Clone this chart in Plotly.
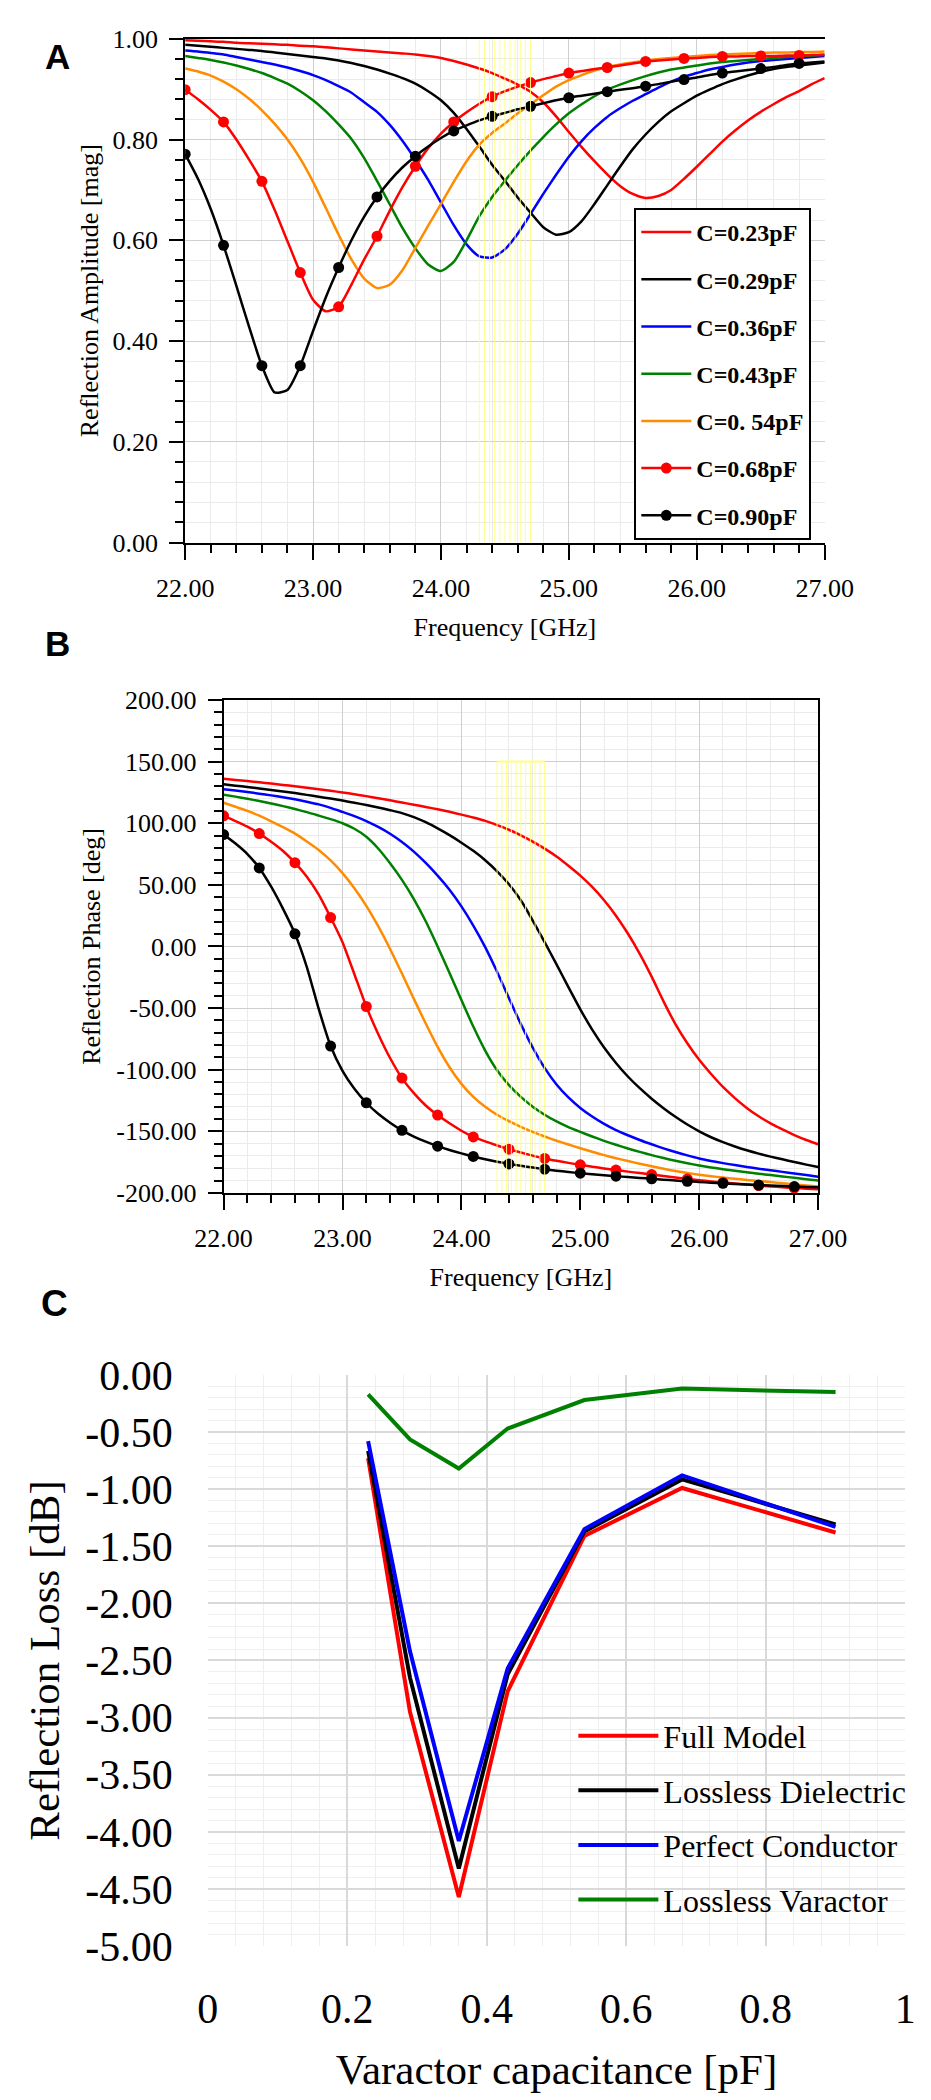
import plotly.graph_objects as go

SERIF = "Liberation Serif"
SANS = "Liberation Sans"
W, H = 931, 2100

# ---------------- data ----------------
freq_ghz = [22.0, 22.1, 22.2, 22.3, 22.4, 22.5, 22.6, 22.7, 22.8, 22.9,
            23.0, 23.1, 23.2, 23.3, 23.4, 23.5, 23.6, 23.7, 23.8, 23.9,
            24.0, 24.1, 24.2, 24.3, 24.4, 24.5, 24.6, 24.7, 24.8, 24.9,
            25.0, 25.1, 25.2, 25.3, 25.4, 25.5, 25.6, 25.7, 25.8, 25.9,
            26.0, 26.1, 26.2, 26.3, 26.4, 26.5, 26.6, 26.7, 26.8, 26.9,
            27.0]

series_labels = ["C=0.23pF", "C=0.29pF", "C=0.36pF", "C=0.43pF",
                 "C=0. 54pF", "C=0.68pF", "C=0.90pF"]
series_colors = ["#ff0000", "#000000", "#0000ff", "#008000",
                 "#ff8c00", "#ff0000", "#000000"]
series_has_markers = [False, False, False, False, False, True, True]
marker_every = 3  # markers on every 3rd sample (every 0.3 GHz)

# Reflection amplitude [mag]
amp_023 = [0.997, 0.996, 0.995, 0.994, 0.992, 0.991, 0.990, 0.989, 0.988, 0.986,
           0.985, 0.983, 0.981, 0.979, 0.977, 0.975, 0.973, 0.971, 0.969, 0.966,
           0.962, 0.956, 0.949, 0.941, 0.932, 0.921, 0.909, 0.895, 0.874, 0.846,
           0.815, 0.785, 0.757, 0.731, 0.708, 0.692, 0.684, 0.688, 0.700, 0.722,
           0.746, 0.771, 0.796, 0.818, 0.838, 0.855, 0.870, 0.884, 0.896, 0.910,
           0.922]
amp_029 = [0.988, 0.986, 0.984, 0.982, 0.980, 0.978, 0.976, 0.973, 0.970, 0.967,
           0.964, 0.961, 0.957, 0.952, 0.946, 0.939, 0.931, 0.922, 0.911, 0.896,
           0.878, 0.853, 0.821, 0.786, 0.750, 0.718, 0.685, 0.655, 0.626, 0.611,
           0.616, 0.638, 0.672, 0.709, 0.746, 0.781, 0.810, 0.835, 0.856, 0.872,
           0.887, 0.899, 0.910, 0.919, 0.927, 0.934, 0.940, 0.944, 0.947, 0.950,
           0.953]
amp_036 = [0.977, 0.975, 0.972, 0.969, 0.964, 0.959, 0.954, 0.949, 0.943, 0.936,
           0.928, 0.918, 0.906, 0.893, 0.874, 0.855, 0.829, 0.797, 0.760, 0.720,
           0.675, 0.630, 0.592, 0.568, 0.566, 0.582, 0.613, 0.652, 0.692, 0.730,
           0.766, 0.797, 0.823, 0.845, 0.862, 0.877, 0.890, 0.903, 0.915, 0.925,
           0.932, 0.939, 0.944, 0.949, 0.953, 0.956, 0.958, 0.960, 0.962, 0.964,
           0.966]
amp_043 = [0.966, 0.962, 0.958, 0.953, 0.947, 0.940, 0.932, 0.922, 0.911, 0.896,
           0.878, 0.856, 0.830, 0.801, 0.763, 0.718, 0.671, 0.624, 0.584, 0.552,
           0.539, 0.557, 0.600, 0.648, 0.686, 0.718, 0.749, 0.778, 0.805, 0.830,
           0.852, 0.870, 0.886, 0.899, 0.909, 0.918, 0.926, 0.933, 0.939, 0.943,
           0.947, 0.951, 0.954, 0.956, 0.958, 0.960, 0.962, 0.964, 0.966, 0.967,
           0.969]
amp_054 = [0.941, 0.935, 0.927, 0.915, 0.900, 0.881, 0.858, 0.831, 0.800, 0.762,
           0.716, 0.664, 0.611, 0.562, 0.524, 0.505, 0.512, 0.541, 0.585, 0.629,
           0.672, 0.716, 0.757, 0.790, 0.813, 0.832, 0.852, 0.870, 0.888, 0.905,
           0.918, 0.928, 0.937, 0.944, 0.949, 0.953, 0.957, 0.960, 0.962, 0.964,
           0.966, 0.968, 0.969, 0.970, 0.971, 0.972, 0.973, 0.973, 0.974, 0.974,
           0.975]
amp_068 = [0.899, 0.880, 0.859, 0.835, 0.800, 0.760, 0.717, 0.660, 0.598, 0.536,
           0.482, 0.459, 0.468, 0.512, 0.562, 0.608, 0.659, 0.706, 0.747, 0.783,
           0.812, 0.835, 0.854, 0.871, 0.885, 0.896, 0.905, 0.913, 0.920, 0.926,
           0.932, 0.936, 0.940, 0.943, 0.947, 0.951, 0.955, 0.957, 0.959, 0.961,
           0.962, 0.964, 0.965, 0.965, 0.966, 0.966, 0.966, 0.967, 0.967, 0.968,
           0.968]
amp_090 = [0.771, 0.722, 0.662, 0.590, 0.510, 0.428, 0.351, 0.298, 0.303, 0.351,
           0.420, 0.487, 0.546, 0.600, 0.647, 0.686, 0.718, 0.745, 0.767, 0.786,
           0.803, 0.817, 0.828, 0.838, 0.846, 0.853, 0.860, 0.866, 0.872, 0.878,
           0.883, 0.887, 0.891, 0.895, 0.899, 0.902, 0.906, 0.910, 0.915, 0.919,
           0.923, 0.928, 0.932, 0.935, 0.938, 0.941, 0.944, 0.948, 0.951, 0.953,
           0.955]

# Reflection phase [deg]
ph_023 = [136.0, 135.1, 134.2, 133.2, 132.2, 131.1, 130.0, 128.8, 127.6, 126.3,
          125.0, 123.5, 122.0, 120.3, 118.6, 116.8, 115.0, 113.2, 111.3, 109.3,
          107.0, 104.6, 101.9, 98.5, 94.7, 90.2, 85.1, 79.4, 73.0, 65.5,
          57.5, 48.3, 37.5, 25.0, 10.5, -6.0, -24.5, -44.5, -63.0, -78.5,
          -92.0, -103.5, -114.0, -123.0, -131.0, -137.8, -143.5, -148.5, -153.0, -157.0,
          -160.5]
ph_029 = [131.6, 130.5, 129.4, 128.2, 127.0, 125.8, 124.5, 123.0, 121.5, 120.0,
          118.4, 116.6, 114.8, 112.8, 110.6, 108.2, 105.0, 100.8, 95.8, 90.3,
          84.2, 77.6, 70.0, 61.0, 50.5, 37.5, 21.0, 3.5, -14.5, -33.0,
          -51.0, -67.5, -82.0, -94.5, -105.5, -115.0, -123.5, -131.2, -138.2, -144.5,
          -150.0, -154.8, -158.8, -162.3, -165.4, -168.1, -170.5, -172.7, -174.9, -177.0,
          -179.0]
ph_036 = [127.6, 126.5, 125.3, 124.0, 122.6, 121.1, 119.5, 117.5, 115.3, 112.5,
          109.2, 105.8, 101.8, 97.0, 91.5, 84.8, 77.0, 67.8, 57.5, 46.0,
          32.5, 17.0, -0.5, -20.5, -42.0, -63.0, -82.0, -98.5, -112.0, -122.5,
          -131.0, -138.0, -144.0, -149.0, -153.2, -157.0, -160.5, -163.8, -166.8, -169.5,
          -172.0, -174.0, -175.8, -177.4, -178.9, -180.3, -181.6, -182.9, -184.2, -185.5,
          -186.8]
ph_043 = [123.2, 121.6, 119.9, 118.0, 116.0, 113.9, 111.5, 109.0, 106.2, 103.3,
          100.0, 95.5, 89.0, 79.5, 67.5, 54.0, 38.5, 20.5, 0.0, -21.5,
          -43.5, -65.0, -84.5, -100.5, -112.5, -122.0, -130.0, -136.5, -142.0, -146.6,
          -150.5, -154.2, -157.7, -160.9, -163.9, -166.7, -169.3, -171.7, -173.9, -175.9,
          -177.7, -179.3, -180.7, -182.0, -183.2, -184.4, -185.5, -186.6, -187.7, -188.8,
          -189.9]
ph_054 = [116.6, 113.4, 110.0, 106.1, 101.6, 96.8, 91.6, 85.2, 78.3, 69.8,
          59.5, 47.3, 33.0, 16.5, -2.0, -22.0, -42.5, -62.5, -81.5, -98.0,
          -111.5, -122.0, -130.0, -136.5, -141.8, -146.4, -150.5, -154.2, -157.6, -160.7,
          -163.7, -166.6, -169.3, -171.8, -174.1, -176.3, -178.4, -180.4, -182.2, -183.8,
          -185.2, -186.4, -187.5, -188.5, -189.4, -190.3, -191.2, -192.1, -193.0, -193.9,
          -194.7]
ph_068 = [106.0, 101.8, 97.2, 91.6, 85.0, 77.5, 68.0, 56.5, 42.0, 23.5,
          3.5, -22.5, -48.7, -71.0, -90.5, -106.8, -119.0, -129.0, -136.8, -143.5,
          -149.5, -154.5, -158.2, -161.5, -164.5, -167.2, -169.7, -172.0, -173.9, -175.6,
          -177.2, -178.7, -180.1, -181.4, -182.7, -183.9, -185.1, -186.3, -187.5, -188.6,
          -189.6, -190.6, -191.5, -192.4, -193.2, -194.0, -194.7, -195.4, -196.0, -196.5,
          -197.0]
ph_090 = [90.8, 83.5, 75.0, 63.7, 48.5, 30.5, 10.3, -16.7, -50.7, -80.8,
          -101.0, -115.5, -126.8, -135.8, -143.0, -149.2, -154.2, -158.4, -162.0, -165.1,
          -167.9, -170.4, -172.6, -174.6, -176.4, -178.0, -179.4, -180.7, -181.9, -183.0,
          -184.0, -184.9, -185.7, -186.4, -187.1, -187.8, -188.5, -189.2, -189.9, -190.5,
          -191.1, -191.7, -192.2, -192.7, -193.2, -193.6, -194.0, -194.4, -194.8, -195.1,
          -195.4]

amp_series = [amp_023, amp_029, amp_036, amp_043, amp_054, amp_068, amp_090]
phase_series = [ph_023, ph_029, ph_036, ph_043, ph_054, ph_068, ph_090]

# tick labels (hyphen-minus as in the original)
phase_tick_vals = [-200, -150, -100, -50, 0, 50, 100, 150, 200]
phase_tick_text = ["-200.00", "-150.00", "-100.00", "-50.00", "0.00",
                   "50.00", "100.00", "150.00", "200.00"]
loss_tick_vals = [-5.0, -4.5, -4.0, -3.5, -3.0, -2.5, -2.0, -1.5, -1.0, -0.5, 0.0]
loss_tick_text = ["-5.00", "-4.50", "-4.00", "-3.50", "-3.00", "-2.50",
                  "-2.00", "-1.50", "-1.00", "-0.50", "0.00"]

# Yellow marker band (GHz)
band_ghz = [24.30, 24.34, 24.38, 24.42, 24.46, 24.50, 24.54, 24.58, 24.62, 24.66, 24.70]
band_phase_top = 150

# Panel C: reflection loss vs varactor capacitance
cap_pf = [0.23, 0.29, 0.36, 0.43, 0.54, 0.68, 0.90]
loss_full_model = [-0.73, -2.95, -4.57, -2.77, -1.41, -0.99, -1.38]
loss_lossless_dielectric = [-0.665, -2.65, -4.32, -2.62, -1.37, -0.915, -1.31]
loss_perfect_conductor = [-0.58, -2.42, -4.08, -2.57, -1.35, -0.88, -1.33]
loss_lossless_varactor = [-0.17, -0.565, -0.82, -0.47, -0.22, -0.12, -0.15]
loss_labels = ["Full Model", "Lossless Dielectric", "Perfect Conductor", "Lossless Varactor"]
loss_colors = ["#ff0000", "#000000", "#0000ff", "#008000"]
loss_series = [loss_full_model, loss_lossless_dielectric, loss_perfect_conductor,
               loss_lossless_varactor]

# ---------------- figure ----------------
def dx(p):
    return p / W

def dy(p):
    return 1 - p / H

fig = go.Figure()

for lab, col, mk, amp, ph in zip(series_labels, series_colors, series_has_markers,
                                 amp_series, phase_series):
    mcolors = [col if (mk and j % marker_every == 0) else "rgba(0,0,0,0)"
               for j in range(len(freq_ghz))]
    common = dict(
        mode="lines+markers" if mk else "lines",
        line=dict(color=col, width=2.5, shape="spline", smoothing=0.6),
        marker=dict(size=11, color=mcolors, line=dict(width=0)),
        legendgroup=lab,
        hoverinfo="skip",
    )
    fig.add_trace(go.Scatter(x=freq_ghz, y=amp, name=lab, xaxis="x", yaxis="y",
                             legend="legend", showlegend=True, **common))
    fig.add_trace(go.Scatter(x=freq_ghz, y=ph, name=lab, xaxis="x2", yaxis="y2",
                             showlegend=False, **common))

for lab, col, vals in zip(loss_labels, loss_colors, loss_series):
    fig.add_trace(go.Scatter(x=cap_pf, y=vals, name=lab, mode="lines",
                             line=dict(color=col, width=4),
                             xaxis="x3", yaxis="y3", legend="legend2",
                             legendgroup=lab, hoverinfo="skip"))

# yellow band lines
YEL = "rgba(255,255,130,0.95)"
shapes = []
for f in band_ghz:
    shapes.append(dict(type="line", xref="x", yref="y", x0=f, x1=f, y0=0, y1=1,
                       line=dict(color=YEL, width=1), layer="above"))
    shapes.append(dict(type="line", xref="x2", yref="y2", x0=f, x1=f, y0=-200,
                       y1=band_phase_top, line=dict(color=YEL, width=1), layer="above"))
shapes.append(dict(type="line", xref="x2", yref="y2", x0=band_ghz[0], x1=band_ghz[-1],
                   y0=band_phase_top, y1=band_phase_top,
                   line=dict(color=YEL, width=2), layer="above"))

tick_font = dict(family=SERIF, size=26, color="black")
title_font = dict(family=SERIF, size=26, color="black")

def ab_xaxis(domain, anchor):
    return dict(
        domain=domain, anchor=anchor, range=[22, 27], dtick=1, tick0=22,
        tickformat=".2f", ticks="outside", ticklen=15, tickwidth=2, tickcolor="black",
        showline=True, linecolor="black", linewidth=2, mirror=True,
        showgrid=True, gridcolor="#cfcfcf", gridwidth=1, zeroline=False,
        minor=dict(dtick=0.2, ticks="outside", ticklen=8, tickwidth=2, tickcolor="black",
                   showgrid=True, gridcolor="#ebebeb", gridwidth=1),
        tickfont=tick_font, ticklabelstandoff=6,
        title=dict(text="Frequency [GHz]", font=title_font, standoff=16),
        fixedrange=True,
    )

layout = dict(
    width=W, height=H,
    margin=dict(l=0, r=0, t=0, b=0),
    paper_bgcolor="white", plot_bgcolor="white",
    font=dict(family=SERIF, color="black"),
    showlegend=True,
    shapes=shapes,
    xaxis=ab_xaxis([dx(158), dx(840)], "y"),
    yaxis=dict(
        domain=[dy(524), dy(9)], anchor="x", range=[0, 1], dtick=0.2, tick0=0,
        tickformat=".2f", ticks="outside", ticklen=14, tickwidth=2, tickcolor="black",
        showline=True, linecolor="black", linewidth=2, mirror=False,
        showgrid=True, gridcolor="#cfcfcf", gridwidth=1, zeroline=False,
        minor=dict(dtick=0.04, ticks="outside", ticklen=8, tickwidth=2, tickcolor="black",
                   showgrid=True, gridcolor="#ebebeb", gridwidth=1),
        tickfont=tick_font, ticklabelstandoff=6,
        title=dict(text="Reflection Amplitude [mag]", font=title_font, standoff=6),
        fixedrange=True,
    ),
    xaxis2=ab_xaxis([dx(199), dx(833)], "y2"),
    yaxis2=dict(
        domain=[dy(1189), dy(685)], anchor="x2", range=[-200, 200],
        tickmode="array", tickvals=phase_tick_vals, ticktext=phase_tick_text,
        ticks="outside", ticklen=14, tickwidth=2, tickcolor="black",
        showline=True, linecolor="black", linewidth=2, mirror=True,
        showgrid=True, gridcolor="#cfcfcf", gridwidth=1, zeroline=False,
        minor=dict(dtick=10, tick0=0, ticks="outside", ticklen=8, tickwidth=2,
                   tickcolor="black", showgrid=True, gridcolor="#ebebeb", gridwidth=1),
        tickfont=tick_font, ticklabelstandoff=6,
        title=dict(text="Reflection Phase [deg]", font=title_font, standoff=8),
        fixedrange=True,
    ),
    xaxis3=dict(
        domain=[dx(182), dx(926)], anchor="y3", range=[0, 1], dtick=0.2, tick0=0,
        ticks="", showline=False, zeroline=False,
        showgrid=True, gridcolor="#d9d9d9", gridwidth=2,
        minor=dict(dtick=0.04, showgrid=True, gridcolor="#efefef", gridwidth=1),
        tickfont=dict(family=SERIF, size=42, color="black"), ticklabelstandoff=34,
        title=dict(text="Varactor capacitance [pF]",
                   font=dict(family=SERIF, size=43, color="black"), standoff=22),
        fixedrange=True,
    ),
    yaxis3=dict(
        domain=[dy(1959), dy(1375)], anchor="x3", range=[-5, 0],
        tickmode="array", tickvals=loss_tick_vals, ticktext=loss_tick_text,
        ticks="", showline=False, zeroline=False,
        showgrid=True, gridcolor="#d9d9d9", gridwidth=2,
        minor=dict(dtick=0.1, tick0=0, showgrid=True, gridcolor="#efefef", gridwidth=1),
        tickfont=dict(family=SERIF, size=42, color="black"), ticklabelstandoff=34,
        title=dict(text="Reflection Loss [dB]",
                   font=dict(family=SERIF, size=43, color="black"), standoff=12),
        fixedrange=True,
    ),
    legend=dict(
        x=dx(637), y=dy(182), xanchor="left", yanchor="top",
        bgcolor="white", bordercolor="black", borderwidth=2,
        font=dict(family=SERIF, size=24, color="black", weight="bold"),
        traceorder="grouped", tracegroupgap=13, itemwidth=50,
    ),
    legend2=dict(
        x=dx(572), y=dy(1716), xanchor="left", yanchor="top",
        bgcolor="rgba(0,0,0,0)", borderwidth=0,
        font=dict(family=SERIF, size=32, color="black"),
        traceorder="grouped", tracegroupgap=10, itemwidth=80,
    ),
    annotations=[
        dict(text="<b>A</b>", xref="paper", yref="paper", x=dx(6), y=dy(27),
             xanchor="left", yanchor="middle", showarrow=False,
             font=dict(family=SANS, size=35, color="black")),
        dict(text="<b>B</b>", xref="paper", yref="paper", x=dx(6), y=dy(627),
             xanchor="left", yanchor="middle", showarrow=False,
             font=dict(family=SANS, size=35, color="black")),
        dict(text="<b>C</b>", xref="paper", yref="paper", x=dx(2), y=dy(1302),
             xanchor="left", yanchor="middle", showarrow=False,
             font=dict(family=SANS, size=37, color="black")),
    ],
)
fig.update_layout(**layout)
fig.write_html("out.html")
